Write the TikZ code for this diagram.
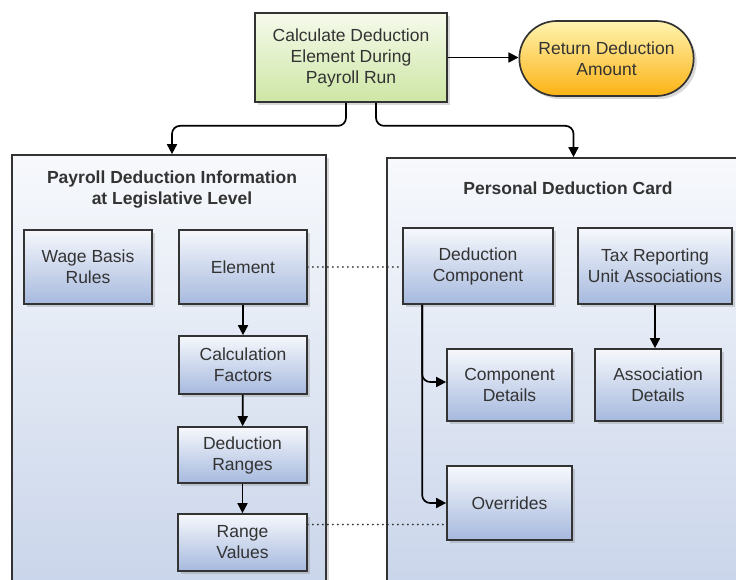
\documentclass[tikz,border=0pt]{standalone}
\usepackage{fontspec}
\setmainfont{Liberation Sans}
\usetikzlibrary{arrows.meta, shadows, shapes.misc}
\definecolor{boxtop}{RGB}{246,248,252}
\definecolor{boxbot}{RGB}{166,185,222}
\definecolor{paneltop}{RGB}{247,249,252}
\definecolor{panelbot}{RGB}{200,212,234}
\definecolor{calctop}{RGB}{246,250,236}
\definecolor{calcbot}{RGB}{205,230,164}
\definecolor{rettop}{RGB}{255,244,176}
\definecolor{retbot}{RGB}{252,178,20}
\definecolor{txt}{RGB}{51,51,51}

\begin{document}
\begin{tikzpicture}[x = 1pt, y = -1pt,
  every node/.style = {font = \fontsize{17.5}{21}\selectfont, text = txt, align = center},
  shade/.style = {drop shadow = {shadow xshift = 3pt, shadow yshift = -3pt, opacity = 0.3, fill = gray}},
  itembox/.style = {draw = black!80, line width = 1.7pt, shade, top color = boxtop, bottom color = boxbot, inner sep = 0pt},
  panel/.style = {draw = black!80, line width = 1.7pt, shade, top color = paneltop, bottom color = panelbot, inner sep = 0pt},
  arrow/.style = {line width = 1.7pt, -{Triangle[length = 10pt, width = 10pt]}},
  link/.style = {line width = 2pt, line cap = round, dash pattern = on 0pt off 5pt, black!80}]

\useasboundingbox (0, 0) rectangle (736, 580);
\clip (0, 0) rectangle (736, 580);

% top level
\node [draw = black!80, line width = 1.7pt, shade, top color = calctop, bottom color = calcbot,
  minimum width = 192pt, minimum height = 89pt] (calc) at (351, 57.5) {Calculate Deduction\\Element During\\Payroll Run};
\node [draw = black!80, line width = 1.7pt, shade, rounded rectangle, top color = rettop, bottom color = retbot,
  minimum width = 181pt, minimum height = 75pt] (ret) at (606.5, 58.5) {Return Deduction\\Amount};

% panels
\node [panel, minimum width = 314pt, minimum height = 445pt] (legal) at (169, 377.5) {};
\node [panel, minimum width = 373pt, minimum height = 442pt] (card) at (573.5, 379) {};
\node [font = \bfseries\fontsize{17.5}{21}\selectfont] (legaltitle) at (172, 190) {Payroll Deduction Information\\at Legislative Level};
\node [font = \bfseries\fontsize{17.5}{21}\selectfont] (cardtitle) at (568, 188) {Personal Deduction Card};

% legislative level
\node [itembox, minimum width = 128pt, minimum height = 74pt] (wage) at (88, 267) {Wage Basis\\Rules};
\node [itembox, minimum width = 128pt, minimum height = 74pt] (elem) at (243, 267) {Element};
\node [itembox, minimum width = 128pt, minimum height = 58pt] (factors) at (243, 365) {Calculation\\Factors};
\node [itembox, minimum width = 129pt, minimum height = 56pt] (ranges) at (242.5, 455) {Deduction\\Ranges};
\node [itembox, minimum width = 129pt, minimum height = 57pt] (values) at (242.5, 542.5) {Range\\Values};

% deduction card
\node [itembox, minimum width = 150pt, minimum height = 76pt] (comp) at (478, 266) {Deduction\\Component};
\node [itembox, minimum width = 154pt, minimum height = 76pt] (tax) at (655, 266) {Tax Reporting\\Unit Associations};
\node [itembox, minimum width = 125pt, minimum height = 72pt] (compdet) at (509.5, 385) {Component\\Details};
\node [itembox, minimum width = 126pt, minimum height = 72pt] (assoc) at (658, 385) {Association\\Details};
\node [itembox, minimum width = 125pt, minimum height = 74pt] (over) at (509.5, 503) {Overrides};

% connectors
\draw [arrow] (calc.east) -- (calc.east -| ret.west);
\draw [arrow, rounded corners = 8pt] ([xshift = -5pt]calc.south) -- ++(0, 23) -| ([xshift = 3pt]legal.north);
\draw [arrow, rounded corners = 8pt] ([xshift = 25pt]calc.south) -- ++(0, 23) -| (card.north);
\draw [arrow] (elem) -- (factors);
\draw [arrow] (factors) -- (ranges);
\draw [arrow] (ranges) -- (values);
\draw [arrow] (tax) -- (tax |- assoc.north);
\draw [arrow, rounded corners = 8pt] ([xshift = 20pt]comp.south west) |- ([yshift = 3pt]compdet.west);
\draw [arrow, rounded corners = 8pt] ([xshift = 20pt]comp.south west) |- (over.west);
\draw [link] (elem.east) -- (elem.east -| comp.west);
\draw [link] ([yshift = 18pt]values.east) -- ([yshift = 18pt]values.east -| over.west);
\end{tikzpicture}
\end{document}
